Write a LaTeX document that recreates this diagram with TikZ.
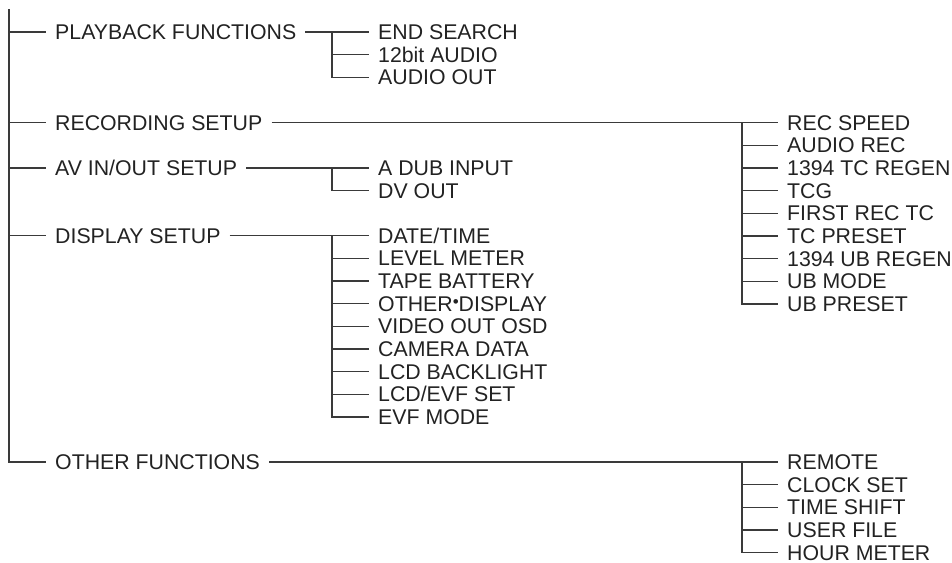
\documentclass[tikz,border=0pt]{standalone}
\usepackage{fontspec}
\setmainfont{Liberation Sans}
\definecolor{menuline}{HTML}{3A3A3A}
\definecolor{menutext}{HTML}{222222}
\usetikzlibrary{positioning}

\begin{document}
\begin{tikzpicture}[
  x=1pt, y=-1pt,
  font=\fontsize{21.3}{24}\selectfont,
  item/.style={anchor=west, text=menutext, inner xsep=9pt, inner ysep=0pt, text height=15pt, text depth=0pt},
  sub/.style={item, below=7.3pt of #1.south west, anchor=north west},
  ln/.style={draw=menuline, line width=1.25pt},
]
  \useasboundingbox (0,0) rectangle (952,562);

  % top level
  \coordinate (top) at (9,9);
  \node[item] (pb)   at (46,32)    {PLAYBACK FUNCTIONS};
  \node[item] (rec)  at (46,122.5) {RECORDING SETUP};
  \node[item] (av)   at (46,168)   {AV IN/OUT SETUP};
  \node[item] (disp) at (46,235.5) {DISPLAY SETUP};
  \node[item] (oth)  at (46,462)   {OTHER FUNCTIONS};

  % playback
  \node[item] (es)    at (369,32) {END SEARCH};
  \node[sub=es]    (aud12) {12bit AUDIO};
  \node[sub=aud12] (aout)  {AUDIO OUT};

  % recording
  \node[item] (rs)    at (778,122.5) {REC SPEED};
  \node[sub=rs]    (arec)  {AUDIO REC};
  \node[sub=arec]  (tcreg) {1394 TC REGEN};
  \node[sub=tcreg] (tcg)   {TCG};
  \node[sub=tcg]   (frtc)  {FIRST REC TC};
  \node[sub=frtc]  (tcpre) {TC PRESET};
  \node[sub=tcpre] (ubreg) {1394 UB REGEN};
  \node[sub=ubreg] (ubmod) {UB MODE};
  \node[sub=ubmod] (ubpre) {UB PRESET};

  % av in/out
  \node[item] (adub) at (369,168) {A DUB INPUT};
  \node[sub=adub] (dvout) {DV OUT};

  % display
  \node[item] (dt) at (369,235.5) {DATE/TIME};
  \node[sub=dt]    (lvl)   {LEVEL METER};
  \node[sub=lvl]   (tbat)  {TAPE BATTERY};
  \node[sub=tbat]  (odisp) {OTHER{\raisebox{0.28ex}{\scalebox{0.8}{•}}}DISPLAY};
  \node[sub=odisp] (vosd)  {VIDEO OUT OSD};
  \node[sub=vosd]  (cdata) {CAMERA DATA};
  \node[sub=cdata] (lcdbl) {LCD BACKLIGHT};
  \node[sub=lcdbl] (lcdev) {LCD/EVF SET};
  \node[sub=lcdev] (evfm)  {EVF MODE};

  % other
  \node[item] (rem) at (778,462) {REMOTE};
  \node[sub=rem]   (clk)   {CLOCK SET};
  \node[sub=clk]   (tsh)   {TIME SHIFT};
  \node[sub=tsh]   (ufile) {USER FILE};
  \node[sub=ufile] (hmet)  {HOUR METER};

  % forks
  \coordinate (pbfork)   at (332,32);
  \coordinate (avfork)   at (332,168);
  \coordinate (dispfork) at (332,235.5);
  \coordinate (recfork)  at (742,122.5);
  \coordinate (othfork)  at (742,462);

  % trunk
  \draw[ln] (top) |- (oth.west);
  \draw[ln] (top |- pb.west) -- (pb.west);
  \draw[ln] (top |- rec.west) -- (rec.west);
  \draw[ln] (top |- av.west) -- (av.west);
  \draw[ln] (top |- disp.west) -- (disp.west);

  % branches
  \draw[ln] (pb.east) -- (es.west);
  \draw[ln] (pbfork) |- (aud12.west);
  \draw[ln] (pbfork) |- (aout.west);

  \draw[ln] (rec.east) -- (rs.west);
  \draw[ln] (recfork) |- (arec.west);
  \draw[ln] (recfork) |- (tcreg.west);
  \draw[ln] (recfork) |- (tcg.west);
  \draw[ln] (recfork) |- (frtc.west);
  \draw[ln] (recfork) |- (tcpre.west);
  \draw[ln] (recfork) |- (ubreg.west);
  \draw[ln] (recfork) |- (ubmod.west);
  \draw[ln] (recfork) |- (ubpre.west);

  \draw[ln] (av.east) -- (adub.west);
  \draw[ln] (avfork) |- (dvout.west);

  \draw[ln] (disp.east) -- (dt.west);
  \draw[ln] (dispfork) |- (lvl.west);
  \draw[ln] (dispfork) |- (tbat.west);
  \draw[ln] (dispfork) |- (odisp.west);
  \draw[ln] (dispfork) |- (vosd.west);
  \draw[ln] (dispfork) |- (cdata.west);
  \draw[ln] (dispfork) |- (lcdbl.west);
  \draw[ln] (dispfork) |- (lcdev.west);
  \draw[ln] (dispfork) |- (evfm.west);

  \draw[ln] (oth.east) -- (rem.west);
  \draw[ln] (othfork) |- (clk.west);
  \draw[ln] (othfork) |- (tsh.west);
  \draw[ln] (othfork) |- (ufile.west);
  \draw[ln] (othfork) |- (hmet.west);
\end{tikzpicture}
\end{document}
